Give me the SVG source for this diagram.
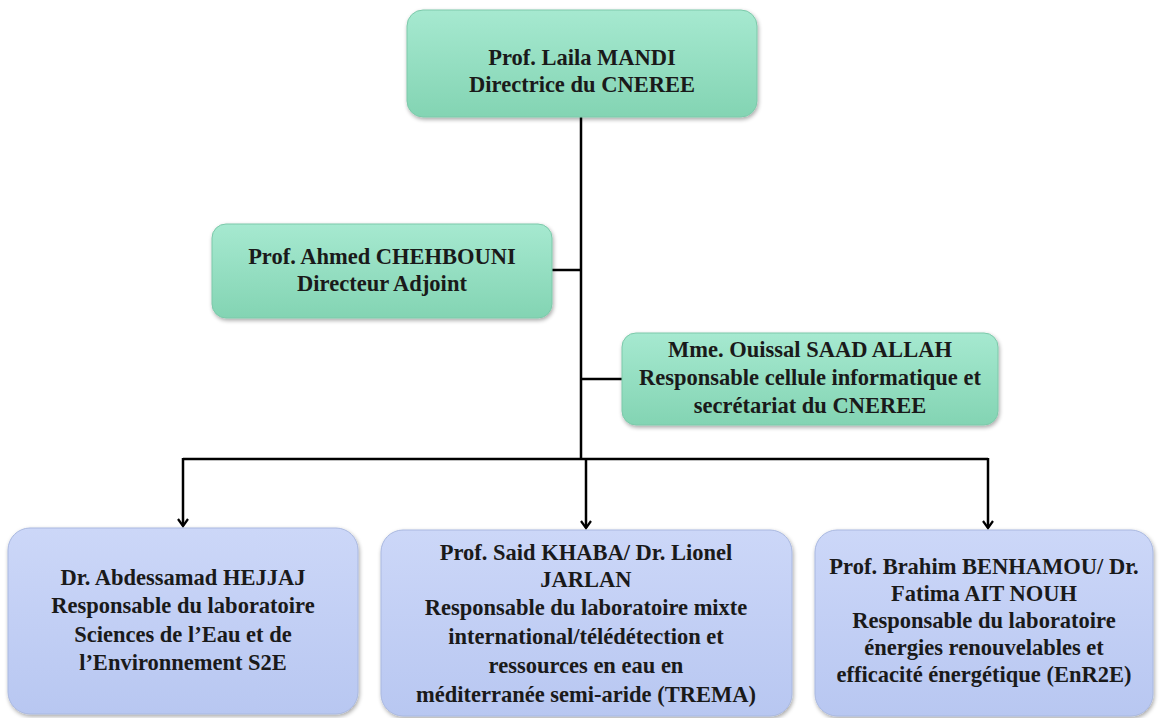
<svg xmlns="http://www.w3.org/2000/svg" width="1159" height="718" viewBox="0 0 1159 718">
<defs>
<linearGradient id="gGreen" x1="0" y1="0" x2="0" y2="1">
<stop offset="0" stop-color="#a6e9d0"/>
<stop offset="1" stop-color="#83d4b3"/>
</linearGradient>
<linearGradient id="gBlue" x1="0" y1="0" x2="0" y2="1">
<stop offset="0" stop-color="#ccd7f8"/>
<stop offset="1" stop-color="#b8c7f1"/>
</linearGradient>
<filter id="sh" x="-5%" y="-5%" width="110%" height="115%">
<feGaussianBlur in="SourceAlpha" stdDeviation="2"/>
<feOffset dx="1" dy="2" result="b"/>
<feComponentTransfer><feFuncA type="linear" slope="0.35"/></feComponentTransfer>
<feMerge><feMergeNode/><feMergeNode in="SourceGraphic"/></feMerge>
</filter>
<marker id="arr" markerWidth="16" markerHeight="16" refX="12" refY="7" orient="auto" markerUnits="userSpaceOnUse">
<polyline points="5,2 12,7 5,12" fill="none" stroke="#000" stroke-width="2.2"/>
</marker>
</defs>
<style>
.g{fill:url(#gGreen);stroke:#7cc9aa;stroke-width:1;filter:url(#sh)}
.b{fill:url(#gBlue);stroke:#a9b8e0;stroke-width:1;filter:url(#sh)}
text{font-family:"Liberation Serif","Times New Roman",serif;font-weight:bold;font-size:22.5px;fill:#1a1a1a;text-anchor:middle}
.c{fill:none;stroke:#000;stroke-width:2.5}
</style>
<rect width="1159" height="718" fill="#ffffff"/>
<g id="connectors">
<line class="c" x1="581" y1="117" x2="581" y2="460"/>
<line class="c" x1="552" y1="270" x2="581" y2="270"/>
<line class="c" x1="581" y1="379" x2="622" y2="379"/>
<polyline class="c" points="183,459 988,459"/>
<line class="c" x1="183" y1="458" x2="183" y2="526" marker-end="url(#arr)"/>
<line class="c" x1="586" y1="459" x2="586" y2="528" marker-end="url(#arr)"/>
<line class="c" x1="988" y1="458" x2="988" y2="528" marker-end="url(#arr)"/>
</g>
<g id="node-directrice">
<rect class="g" x="407" y="10" width="350" height="107" rx="16"/>
<text x="582" y="65">Prof. Laila MANDI</text>
<text x="582" y="92">Directrice du CNEREE</text>
</g>
<g id="node-adjoint">
<rect class="g" x="212" y="224" width="340" height="94" rx="14"/>
<text x="382" y="264">Prof. Ahmed CHEHBOUNI</text>
<text x="382" y="291">Directeur Adjoint</text>
</g>
<g id="node-secretariat">
<rect class="g" x="622" y="333" width="376" height="92" rx="14"/>
<text x="810" y="357">Mme. Ouissal SAAD ALLAH</text>
<text x="810" y="385">Responsable cellule informatique et</text>
<text x="810" y="413">secrétariat du CNEREE</text>
</g>
<g id="node-s2e">
<rect class="b" x="8" y="528" width="350" height="186" rx="22"/>
<text x="183" y="585">Dr. Abdessamad HEJJAJ</text>
<text x="183" y="613">Responsable du laboratoire</text>
<text x="183" y="642">Sciences de l’Eau et de</text>
<text x="183" y="670">l’Environnement S2E</text>
</g>
<g id="node-trema">
<rect class="b" x="381" y="530" width="411" height="186" rx="22"/>
<text x="586" y="560">Prof. Said KHABA/ Dr. Lionel</text>
<text x="586" y="587">JARLAN</text>
<text x="586" y="615">Responsable du laboratoire mixte</text>
<text x="586" y="644">international/télédétection et</text>
<text x="586" y="673">ressources en eau en</text>
<text x="586" y="702">méditerranée semi-aride (TREMA)</text>
</g>
<g id="node-enr2e">
<rect class="b" x="815" y="530" width="338" height="186" rx="22"/>
<text x="984" y="574">Prof. Brahim BENHAMOU/ Dr.</text>
<text x="984" y="601">Fatima AIT NOUH</text>
<text x="984" y="628">Responsable du laboratoire</text>
<text x="984" y="655">énergies renouvelables et</text>
<text x="984" y="682">efficacité énergétique (EnR2E)</text>
</g>
</svg>
